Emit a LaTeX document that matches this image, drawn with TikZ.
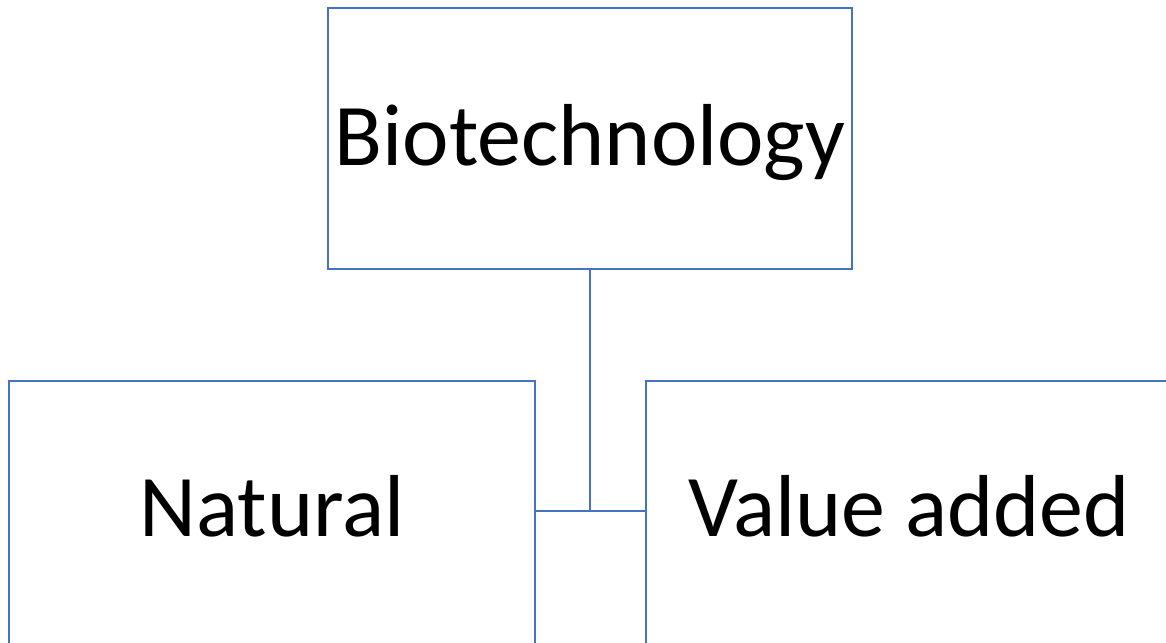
\documentclass[tikz,border=0pt]{standalone}
\usepackage{fontspec}
\setmainfont{Carlito}
\definecolor{boxblue}{HTML}{4472C4}
\begin{document}
\begin{tikzpicture}[x=1pt,y=-1pt,
  box/.style={draw=boxblue, line width=1.4pt, fill=white, inner sep=0pt,
    minimum width=#1},
  lbl/.style={font=\fontsize{88}{100}\selectfont, text=black, inner sep=0pt},
  conn/.style={draw=boxblue, line width=1.4pt}]
\useasboundingbox (0,0) rectangle (1166,642);
\node[box=524pt, minimum height=261pt] (top) at (590,138.5) {};
\node[box=526pt, minimum height=270pt] (left) at (272,516) {};
\node[box=526pt, minimum height=270pt] (right) at (909,516) {};
\node[lbl] (toplbl) at ([yshift=-4pt]top.center) {Biotechnology};
\node[lbl] (leftlbl) at (272,506) {Natural};
\node[lbl] (rightlbl) at (909,506) {Value added};
\draw[conn] (top.south) -- (top.south |- 0,511);
\draw[conn] (left.east |- 0,511) -- (right.west |- 0,511);
\end{tikzpicture}
\end{document}
